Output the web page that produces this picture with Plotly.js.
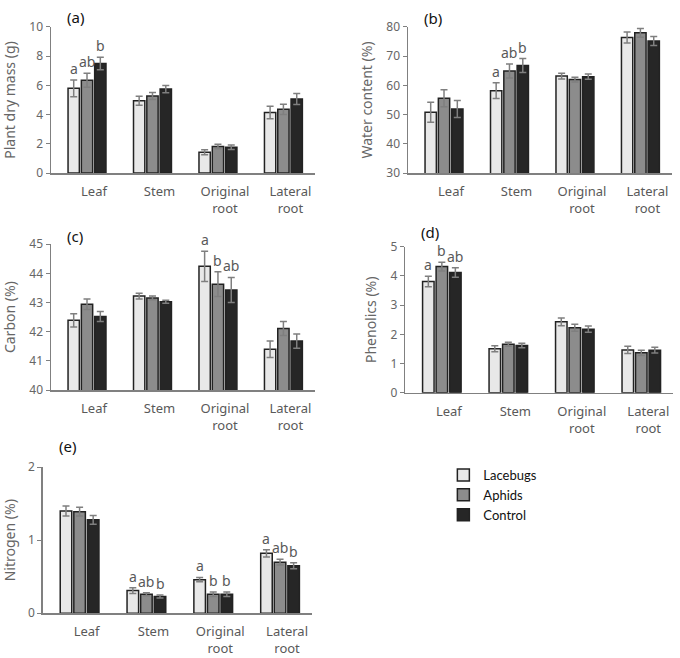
<!DOCTYPE html>
<html>
<head>
<meta charset="utf-8">
<script src="https://cdn.plot.ly/plotly-3.0.1.min.js"></script>
<style>
  html, body { margin: 0; padding: 0; background: #fff; }
  #chart { width: 680px; height: 658px; }
</style>
</head>
<body>
<div id="chart"></div>
<script>
// categories and groups shared by all panels
const categories = ["Leaf", "Stem", "Original<br>root", "Lateral<br>root"];
const treatments = ["Lacebugs", "Aphids", "Control"];

// (a) plant dry mass (g), rows = Lacebugs, Aphids, Control
const massMeans = [
	[5.8, 4.95, 1.43, 4.15],
	[6.36, 5.27, 1.82, 4.36],
	[7.5, 5.75, 1.77, 5.07],
];
const massErrs = [
	[0.57, 0.3, 0.17, 0.43],
	[0.48, 0.24, 0.15, 0.35],
	[0.42, 0.25, 0.15, 0.38],
];
const massLetters = [["a", "ab", "b"], [], [], []];

// (b) water content (%)
const waterMeans = [
	[50.8, 58.2, 63.2, 76.4],
	[55.6, 64.9, 62.0, 78.0],
	[51.9, 66.8, 63.0, 75.2],
];
const waterErrs = [
	[3.4, 2.7, 1.0, 1.9],
	[2.9, 2.4, 0.8, 1.5],
	[2.9, 2.4, 0.9, 1.5],
];
const waterLetters = [[], ["a", "ab", "b"], [], []];

// (c) carbon (%)
const carbonMeans = [
	[42.39, 43.22, 44.24, 41.4],
	[42.94, 43.16, 43.63, 42.11],
	[42.52, 43.03, 43.43, 41.68],
];
const carbonErrs = [
	[0.23, 0.1, 0.52, 0.28],
	[0.18, 0.06, 0.42, 0.24],
	[0.17, 0.05, 0.43, 0.24],
];
const carbonLetters = [[], [], ["a", "b", "ab"], []];

// (d) phenolics (%)
const phenolMeans = [
	[3.81, 1.51, 2.43, 1.47],
	[4.32, 1.66, 2.23, 1.37],
	[4.12, 1.62, 2.18, 1.46],
];
const phenolErrs = [
	[0.18, 0.1, 0.13, 0.12],
	[0.15, 0.07, 0.12, 0.09],
	[0.16, 0.08, 0.11, 0.1],
];
const phenolLetters = [["a", "b", "ab"], [], [], []];

// (e) nitrogen (%)
const nitroMeans = [
	[1.4, 0.31, 0.46, 0.82],
	[1.39, 0.26, 0.26, 0.7],
	[1.28, 0.23, 0.26, 0.65],
];
const nitroErrs = [
	[0.07, 0.04, 0.03, 0.05],
	[0.06, 0.02, 0.03, 0.04],
	[0.06, 0.02, 0.03, 0.04],
];
const nitroLetters = [[], ["a", "ab", "b"], ["a", "b", "b"], ["a", "ab", "b"]];

const fills = ["#e8e8e8", "#8c8c8c", "#262626"];
const grey = "#666666";
const font = "Noto Sans, Open Sans, sans-serif";
const bargap = 0.39;

const panels = [
	{ tag: "(a)", title: "Plant dry mass (g)", means: massMeans, errs: massErrs, letters: massLetters,
	  range: [0, 10], dtick: 2, xd: [0.075, 0.463], yd: [0.737, 0.959], tagUp: 10 },
	{ tag: "(b)", title: "Water content (%)", means: waterMeans, errs: waterErrs, letters: waterLetters,
	  range: [30, 80], dtick: 10, xd: [0.6, 0.988], yd: [0.737, 0.959], tagUp: 9 },
	{ tag: "(c)", title: "Carbon (%)", means: carbonMeans, errs: carbonErrs, letters: carbonLetters,
	  range: [40, 45], dtick: 1, xd: [0.075, 0.463], yd: [0.407, 0.629], tagUp: 8 },
	{ tag: "(d)", title: "Phenolics (%)", means: phenolMeans, errs: phenolErrs, letters: phenolLetters,
	  range: [0, 5], dtick: 1, xd: [0.596, 0.99], yd: [0.403, 0.625], tagUp: 15 },
	{ tag: "(e)", title: "Nitrogen (%)", means: nitroMeans, errs: nitroErrs, letters: nitroLetters,
	  range: [0, 2], dtick: 1, xd: [0.063, 0.459], yd: [0.068, 0.29], tagUp: 21 },
];

const traces = [];
const annotations = [];
const layout = {
	width: 680,
	height: 658,
	autosize: false,
	margin: { t: 0, b: 0, l: 0, r: 0 },
	paper_bgcolor: "#ffffff",
	plot_bgcolor: "#ffffff",
	barmode: "group",
	bargap: bargap,
	bargroupgap: 0.15,
	font: { family: font, color: grey },
	showlegend: true,
	legend: {
		x: 0.652, y: 0.301, xanchor: "left", yanchor: "top",
		font: { family: "Lato, Open Sans, sans-serif", size: 13, color: "#111111" },
		tracegroupgap: 0,
	},
};

panels.forEach((p, i) => {
	const id = i === 0 ? "" : String(i + 1);
	treatments.forEach((t, k) => {
		traces.push({
			type: "bar",
			name: t,
			x: categories,
			y: p.means[k],
			xaxis: "x" + id,
			yaxis: "y" + id,
			legendgroup: t,
			showlegend: i === 0,
			marker: { color: fills[k], line: { color: "#222222", width: 1.5 } },
			error_y: { type: "data", array: p.errs[k], color: "#7f7f7f", thickness: 1.5, width: 3.5 },
		});
	});

	layout["xaxis" + id] = {
		domain: p.xd,
		anchor: "y" + id,
		type: "category",
		range: [-0.55, 3.48],
		showline: true,
		linecolor: "#808080",
		linewidth: 1.5,
		ticks: "",
		showgrid: false,
		zeroline: false,
		ticklabelshift: 7,
		ticklabelstandoff: 6,
		tickfont: { size: 13, color: "#595959" },
	};
	layout["yaxis" + id] = {
		domain: p.yd,
		anchor: "x" + id,
		range: p.range,
		dtick: p.dtick,
		showline: true,
		linecolor: "#808080",
		linewidth: 1.5,
		ticks: "outside",
		ticklen: 4,
		tickcolor: "#808080",
		showgrid: false,
		zeroline: false,
		tickfont: { size: 12, color: "#666666" },
		title: { text: p.title, font: { size: 14, color: "#666666" }, standoff: 10 },
	};

	// panel tag
	annotations.push({
		text: p.tag,
		xref: "x" + id + " domain", yref: "y" + id + " domain",
		x: 0, y: 1, xanchor: "left", yanchor: "middle",
		xshift: 14, yshift: p.tagUp,
		showarrow: false,
		font: { size: 15, color: "#111111" },
	});

	// significance letters above the error bars
	const slot = (1 - bargap) / 3;
	p.letters.forEach((lets, c) => {
		lets.forEach((txt, k) => {
			annotations.push({
				text: txt,
				xref: "x" + id, yref: "y" + id,
				x: c + (k - 1) * slot,
				y: p.means[k][c] + p.errs[k][c],
				yanchor: "bottom",
				yshift: 0,
				showarrow: false,
				font: { size: 14, color: "#595959" },
			});
		});
	});
});

layout.annotations = annotations;

Plotly.newPlot("chart", traces, layout, { staticPlot: true });
</script>
</body>
</html>
